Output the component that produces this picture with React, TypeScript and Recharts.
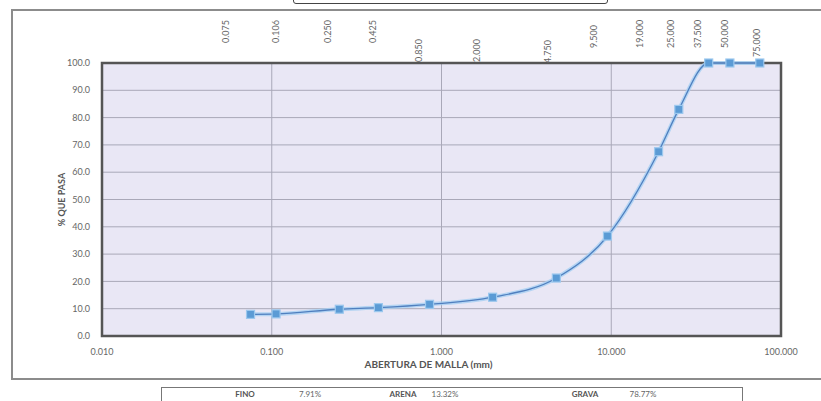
import React from 'react';
import {
  LineChart,
  Line,
  XAxis,
  YAxis,
  CartesianGrid,
  Label,
  ReferenceArea,
} from 'recharts';

// ---- data ----
const SIEVE_MM = [0.075, 0.106, 0.25, 0.425, 0.85, 2.0, 4.75, 9.5, 19.0, 25.0, 37.5, 50.0, 75.0];
const PASSING = [7.91, 8.1, 9.8, 10.4, 11.6, 14.2, 21.23, 36.6, 67.5, 83.0, 100, 100, 100];
const X_TICKS = [0.01, 0.1, 1, 10, 100];
const Y_TICKS = [0, 10, 20, 30, 40, 50, 60, 70, 80, 90, 100];
const SUMMARY_LABELS = ['FINO', 'ARENA', 'GRAVA'];
const SUMMARY_VALUES = ['7.91%', '13.32%', '78.77%'];

// ---- style constants (label nudges for top sieve labels) ----
const TOP_LABEL_DX = [-25, -1, -12, -6, -11, -16, -9, -14, -19, -8, -11, -5, -3];
const TOP_LABEL_BOTTOM = [43, 43, 43, 43, 62, 62, 63, 48, 48, 48, 48, 48, 57];
const SUMMARY_LABEL_X = [245, 403, 585];
const SUMMARY_VALUE_X = [310, 445, 643];

const FONT = 'Lato, "Liberation Sans", sans-serif';

const data = SIEVE_MM.map((s, i) => ({ size: s, pass: PASSING[i] }));

const TopTick = (props: any) => {
  const { x, payload, index } = props;
  const dx = TOP_LABEL_DX[index] ?? 0;
  const by = TOP_LABEL_BOTTOM[index] ?? 45;
  const bx = x + dx + 3.5;
  return (
    <text
      transform={`translate(${bx},${by}) rotate(-90)`}
      fontSize={9}
      fontFamily={FONT}
      fill="#666"
      textAnchor="start"
    >
      {Number(payload.value).toFixed(3)}
    </text>
  );
};

const SquareDot = (p: any) => {
  const { cx, cy, index } = p;
  if (cx == null || cy == null) return <g key={`d${index}`} />;
  return (
    <rect
      key={`d${index}`}
      x={cx - 4}
      y={cy - 4}
      width={8}
      height={8}
      fill="#5b9bd5"
      stroke="#9cc8ee"
      strokeWidth={1.2}
    />
  );
};

export default function App() {
  return (
    <div
      style={{
        position: 'absolute',
        left: 0,
        top: 0,
        width: 821,
        height: 401,
        overflow: 'hidden',
        background: '#ffffff',
        fontFamily: FONT,
      }}
    >
      <LineChart
        width={821}
        height={401}
        data={data}
        margin={{ top: 13, right: 40, bottom: 29, left: 52 }}
      >
        <CartesianGrid
          xAxisId="main"
          yAxisId="main"
          fill="#e9e7f5"
          fillOpacity={1}
          stroke="#a9a8b8"
          strokeWidth={1}
        />
        <XAxis
          xAxisId="main"
          dataKey="size"
          type="number"
          scale="log"
          domain={[0.01, 100]}
          ticks={X_TICKS}
          interval={0}
          allowDataOverflow
          height={36}
          tickLine={false}
          axisLine={false}
          tickSize={6}
          tickMargin={7}
          tick={{ fontSize: 9, fill: '#666', fontFamily: FONT }}
          tickFormatter={(v: number) => v.toFixed(3)}
        >
          <Label
            value="ABERTURA DE MALLA (mm)"
            position="insideBottom"
            offset={4}
            dx={-13}
            style={{ fontSize: 10, fontWeight: 700, fill: '#555', fontFamily: FONT }}
          />
        </XAxis>
        <XAxis
          xAxisId="top"
          orientation="top"
          dataKey="size"
          type="number"
          scale="log"
          domain={[0.01, 100]}
          ticks={SIEVE_MM}
          interval={0}
          allowDataOverflow
          height={50}
          tickLine={false}
          axisLine={false}
          tick={<TopTick />}
        />
        <YAxis
          yAxisId="main"
          type="number"
          domain={[0, 100]}
          ticks={Y_TICKS}
          interval={0}
          width={50}
          tickLine={false}
          axisLine={false}
          tickSize={6}
          tickMargin={6}
          tick={{ fontSize: 9, fill: '#666', fontFamily: FONT }}
          tickFormatter={(v: number) => v.toFixed(1)}
        >
          <Label
            value="% QUE PASA"
            angle={-90}
            position="insideLeft"
            offset={10}
            style={{ fontSize: 9, fontWeight: 700, fill: '#555', textAnchor: 'middle', fontFamily: FONT }}
          />
        </YAxis>
        <ReferenceArea
          xAxisId="main"
          yAxisId="main"
          x1={0.01}
          x2={100}
          y1={0}
          y2={100}
          fill="none"
          stroke="#555"
          strokeWidth={2.5}
          ifOverflow="visible"
        />
        <Line
          xAxisId="main"
          yAxisId="main"
          dataKey="pass"
          type="monotone"
          stroke="#a6cff2"
          strokeWidth={4}
          strokeOpacity={0.8}
          dot={false}
          activeDot={false}
          isAnimationActive={false}
        />
        <Line
          xAxisId="main"
          yAxisId="main"
          dataKey="pass"
          type="monotone"
          stroke="#4f7fbf"
          strokeWidth={1.3}
          dot={<SquareDot />}
          activeDot={false}
          isAnimationActive={false}
        />
      </LineChart>

      {/* outer frame */}
      <div
        style={{
          position: 'absolute',
          left: 11,
          top: 9,
          width: 830,
          height: 367,
          border: '2px solid #8c8c8c',
          pointerEvents: 'none',
        }}
      />
      {/* title box (cut at top) */}
      <div
        style={{
          position: 'absolute',
          left: 293,
          top: -8,
          width: 313,
          height: 10,
          border: '1.5px solid #444',
          borderRadius: 3,
          background: '#fff',
        }}
      />
      {/* summary table */}
      <div
        style={{
          position: 'absolute',
          left: 161,
          top: 387,
          width: 580,
          height: 30,
          border: '1.5px solid #777',
        }}
      />
      {SUMMARY_LABELS.map((t, i) => (
        <div
          key={t}
          style={{
            position: 'absolute',
            left: SUMMARY_LABEL_X[i] - 30,
            width: 60,
            top: 389,
            textAlign: 'center',
            fontSize: 8,
            fontWeight: 700,
            color: '#555',
            fontFamily: FONT,
          }}
        >
          {t}
        </div>
      ))}
      {SUMMARY_VALUES.map((t, i) => (
        <div
          key={t}
          style={{
            position: 'absolute',
            left: SUMMARY_VALUE_X[i] - 30,
            width: 60,
            top: 389,
            textAlign: 'center',
            fontSize: 8,
            color: '#666',
            fontFamily: FONT,
          }}
        >
          {t}
        </div>
      ))}
    </div>
  );
}
